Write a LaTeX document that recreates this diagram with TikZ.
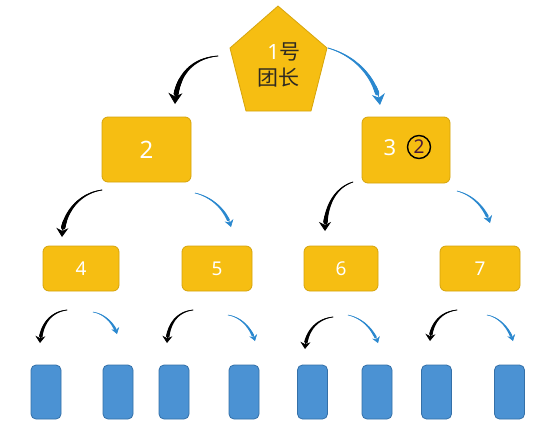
\documentclass[tikz,border=0pt]{standalone}
\usepackage{fontspec}
\newfontfamily\cjkfont{Noto Sans CJK SC}
\setmainfont{Noto Sans}
\usetikzlibrary{arrows.meta,decorations.markings}
\definecolor{yfill}{HTML}{F6BE12}
\definecolor{yedge}{HTML}{D6A40C}
\definecolor{bfill}{HTML}{4B92D3}
\definecolor{bedge}{HTML}{3470A8}
\definecolor{barrow}{HTML}{2A88CF}
\definecolor{darktxt}{HTML}{2E2A22}
\definecolor{circtxt}{HTML}{4A1838}
\begin{document}
\begin{tikzpicture}[x=1pt,y=1pt,
  ybox/.style={draw=yedge,fill=yfill,line width=0.8pt,rounded corners=6pt,inner sep=0pt,text=white,font=\fontsize{19}{19}\selectfont},
  bbox/.style={draw=bedge,fill=bfill,line width=0.8pt,rounded corners=5pt,minimum width=30pt,minimum height=54pt,inner sep=0pt},
  taper/.style n args={3}{decoration={markings,
     mark=between positions 0 and 0.86 step 0.6pt with {%
       \pgfmathsetmacro\tpr{#1+(#2-#1)*(\pgfkeysvalueof{/pgf/decoration/mark info/distance from start})/(\pgfdecoratedpathlength)}%
       \fill[#3] (0,0) circle (\tpr pt);}},
     postaction=decorate},
  blkA/.style={draw=black,line width=0.8pt,-{Stealth[length=11pt,width=14pt]},taper={0.3}{2.9}{black}},
  bluA/.style={draw=barrow,line width=0.8pt,-{Stealth[length=11pt,width=13pt]},taper={0.3}{2.5}{barrow}},
  blkB/.style={draw=black,line width=0.8pt,-{Stealth[length=9pt,width=12pt]},taper={0.3}{2.5}{black}},
  bluB/.style={draw=barrow,line width=0.6pt,-{Stealth[length=7pt,width=9pt]},taper={0.25}{1.8}{barrow}},
  blkC/.style={draw=black,line width=0.7pt,-{Stealth[length=7pt,width=10pt]},taper={0.3}{2.1}{black}},
  bluC/.style={draw=barrow,line width=0.5pt,-{Stealth[length=6pt,width=8pt]},taper={0.2}{1.6}{barrow}},
]
\useasboundingbox (0,0) rectangle (553,-429);
\fill[white] (0,0) rectangle (553,-429);

% pentagon
\filldraw[draw=yedge,fill=yfill,line width=0.8pt,line join=round]
  (278,-6) -- (327,-48) -- (311,-111) -- (246,-111) -- (230,-48) -- cycle;
\node[inner sep=0pt,font=\fontsize{21}{21}\selectfont] (n1a) at (284,-52) {\textcolor{white}{1}\textcolor{darktxt}{\cjkfont 号}};
\node[inner sep=0pt,font=\fontsize{21}{21}\selectfont,text=darktxt] (n1b) at (278,-78) {\cjkfont 团长};

% level 2
\node[ybox,minimum width=89pt,minimum height=65pt,font=\fontsize{24}{24}\selectfont] (b2) at (146.5,-149.5) {2};
\node[ybox,minimum width=88pt,minimum height=66pt] (b3) at (406,-150) {};
\node[text=white,inner sep=0pt,font=\fontsize{22}{22}\selectfont] (t3) at (390,-148) {3};
\node[circle,draw=black,line width=1.4pt,minimum size=23pt,inner sep=0pt,text=circtxt,font=\fontsize{19}{19}\selectfont] (c2) at (419,-147) {2};

% level 3
\node[ybox,minimum width=76pt,minimum height=45pt] (b4) at (81,-268.5) {4};
\node[ybox,minimum width=70pt,minimum height=45pt] (b5) at (217,-268.5) {5};
\node[ybox,minimum width=74pt,minimum height=45pt] (b6) at (341,-268.5) {6};
\node[ybox,minimum width=80pt,minimum height=45pt] (b7) at (480,-268.5) {7};

% level 4
\node[bbox] (l1) at (46,-392) {};
\node[bbox] (l2) at (118,-392) {};
\node[bbox] (l3) at (174,-392) {};
\node[bbox] (l4) at (244,-392) {};
\node[bbox] (l5) at (312.5,-392) {};
\node[bbox] (l6) at (377,-392) {};
\node[bbox] (l7) at (436.5,-392) {};
\node[bbox] (l8) at (509.5,-392) {};

% arrow end points
\coordinate (s1) at (218,-56);  \coordinate (e1) at (175,-104);
\coordinate (s2) at (328,-48);  \coordinate (e2) at (380,-105);
\coordinate (s3) at (102,-190); \coordinate (e3) at (62,-237);
\coordinate (s4) at (195,-193); \coordinate (e4) at (231,-227);
\coordinate (s5) at (353,-182); \coordinate (e5) at (325,-231);
\coordinate (s6) at (457,-191); \coordinate (e6) at (490,-223);
\coordinate (s7) at (67,-310);  \coordinate (e7) at (40,-343);
\coordinate (s8) at (93,-312);  \coordinate (e8) at (117,-334);
\coordinate (s9) at (193,-310); \coordinate (e9) at (167,-343);
\coordinate (s10) at (228,-315); \coordinate (e10) at (255,-341);
\coordinate (s11) at (333,-317); \coordinate (e11) at (305,-349);
\coordinate (s12) at (348,-315); \coordinate (e12) at (378,-343);
\coordinate (s13) at (457,-310); \coordinate (e13) at (430,-341);
\coordinate (s14) at (487,-315); \coordinate (e14) at (513,-341);

% arrows
\draw[blkA] (s1) .. controls (192,-58) and (176,-76) .. (e1);
\draw[bluA] (s2) .. controls (356,-56) and (376,-78) .. (e2);
\draw[blkB] (s3) .. controls (80,-193) and (63,-212) .. (e3);
\draw[bluB] (s4) .. controls (212,-197) and (226,-210) .. (e4);
\draw[blkB] (s5) .. controls (334,-188) and (325,-208) .. (e5);
\draw[bluB] (s6) .. controls (473,-195) and (485,-208) .. (e6);
\draw[blkC] (s7) .. controls (50,-312) and (41,-325) .. (e7);
\draw[bluC] (s8) .. controls (105,-314) and (114,-324) .. (e8);
\draw[blkC] (s9) .. controls (176,-312) and (168,-325) .. (e9);
\draw[bluC] (s10) .. controls (241,-317) and (251,-328) .. (e10);
\draw[blkC] (s11) .. controls (316,-319) and (306,-332) .. (e11);
\draw[bluC] (s12) .. controls (362,-318) and (373,-329) .. (e12);
\draw[blkC] (s13) .. controls (440,-312) and (431,-324) .. (e13);
\draw[bluC] (s14) .. controls (499,-317) and (509,-328) .. (e14);
\end{tikzpicture}
\end{document}
